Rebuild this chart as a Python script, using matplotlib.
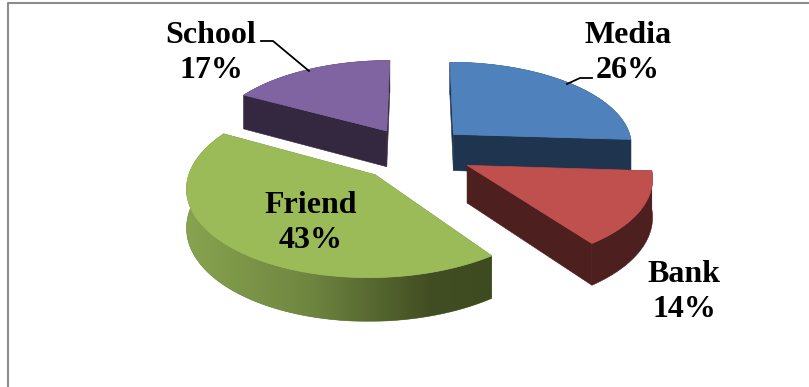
import numpy as np
import matplotlib
matplotlib.use("Agg")
import matplotlib.pyplot as plt
from matplotlib.patches import Polygon
from matplotlib.colors import LinearSegmentedColormap

# -----------------------------
# Data
# -----------------------------
categories = ["Media", "Bank", "Friend", "School"]
values = [26, 14, 43, 17]

# -----------------------------
# Style / layout
# -----------------------------
top_colors = ["#4F81BD", "#C0504D", "#9BBB59", "#8064A2"]
side_colors = ["#1F344F", "#4D1F1E", "#6A7F3A", "#33283F"]
explode = [0.26, 0.30, 0.38, 0.33]
nudge = [(0, -1), (-1, 3), (2, 0), (-4, 4)]   # small pixel shifts per slice
draw_order = [3, 0, 2, 1]
label_pos = [(628, 53), (684, 292), (311, 223), (211, 53)]

ox, oy = 420, 150      # pie centre in the image
rx, ry = 180, 84       # radii before perspective
persp = 0.12
depth = 37


def project(X, Y):
    s = 1 / (1 + persp * Y)
    return ox + rx * X * s, oy - ry * Y * s, depth * s


fig = plt.figure(figsize=(8.09, 3.87), dpi=100)
ax = fig.add_axes([0, 0, 1, 1])
ax.axis("off")

# frame of the chart, only top and left show
ax.plot([8, 8, 809], [387, 2.5, 2.5], color="#8c8c8c", lw=1.5, solid_capstyle="butt")

# -----------------------------
# Slices
# -----------------------------
fracs = np.array(values) / sum(values) * 2 * np.pi
starts = np.concatenate([[0], np.cumsum(fracs)[:-1]])
friend_cmap = LinearSegmentedColormap.from_list(
    "friend", [(0, "#87A34E"), (0.4, "#6F8640"), (0.8, "#414D22"), (1, "#3E4A20")])

z = 2
for i in draw_order:
    a0, a1 = starts[i], starts[i] + fracs[i]
    mid = (a0 + a1) / 2
    cx, cy = explode[i] * np.sin(mid), explode[i] * np.cos(mid)

    t = np.linspace(a0, a1, 120)
    rim_x, rim_y, rim_d = project(cx + np.sin(t), cy + np.cos(t))
    ax_, ay_, ad_ = project(cx, cy)
    rim_x, rim_y = rim_x + nudge[i][0], rim_y + nudge[i][1]
    ax_, ay_ = ax_ + nudge[i][0], ay_ + nudge[i][1]

    # radial faces
    for k in [0, -1]:
        face = [(ax_, ay_), (rim_x[k], rim_y[k]),
                (rim_x[k], rim_y[k] + rim_d[k]), (ax_, ay_ + ad_)]
        ax.add_patch(Polygon(face, fc=side_colors[i], ec=side_colors[i], lw=0.4, zorder=z))

    # outer wall, friend slice gets a shading from light to dark
    wall = np.column_stack([np.r_[rim_x, rim_x[::-1]], np.r_[rim_y, (rim_y + rim_d)[::-1]]])
    wall_patch = Polygon(wall, fc=side_colors[i], ec=side_colors[i], lw=0.4, zorder=z)
    ax.add_patch(wall_patch)
    if categories[i] == "Friend":
        grad = ax.imshow(np.linspace(0, 1, 256)[None, :], cmap=friend_cmap, aspect="auto",
                         extent=(rim_x.min(), rim_x.max(), wall[:, 1].max(), wall[:, 1].min()),
                         zorder=z + 0.5)
        grad.set_clip_path(wall_patch)

    # top surface
    top = np.column_stack([np.r_[ax_, rim_x], np.r_[ay_, rim_y]])
    ax.add_patch(Polygon(top, fc=top_colors[i], ec=top_colors[i], lw=0.5, zorder=z + 1))
    z += 2

ax.set_xlim(0, 809)
ax.set_ylim(387, 0)

# -----------------------------
# Labels
# -----------------------------
for cat, val, (lx, ly) in zip(categories, values, label_pos):
    ax.text(lx, ly, f"{cat}\n{val}%", ha="center", va="center", family="Liberation Serif",
            fontweight="bold", fontsize=23, linespacing=1.27, color="black", zorder=20)

ax.plot([261, 273, 309], [41, 41, 71], color="black", lw=1.3, zorder=20)
ax.plot([567, 580, 592], [84, 78, 78], color="black", lw=1.3, zorder=20)

fig.savefig("out.png", dpi=100)
